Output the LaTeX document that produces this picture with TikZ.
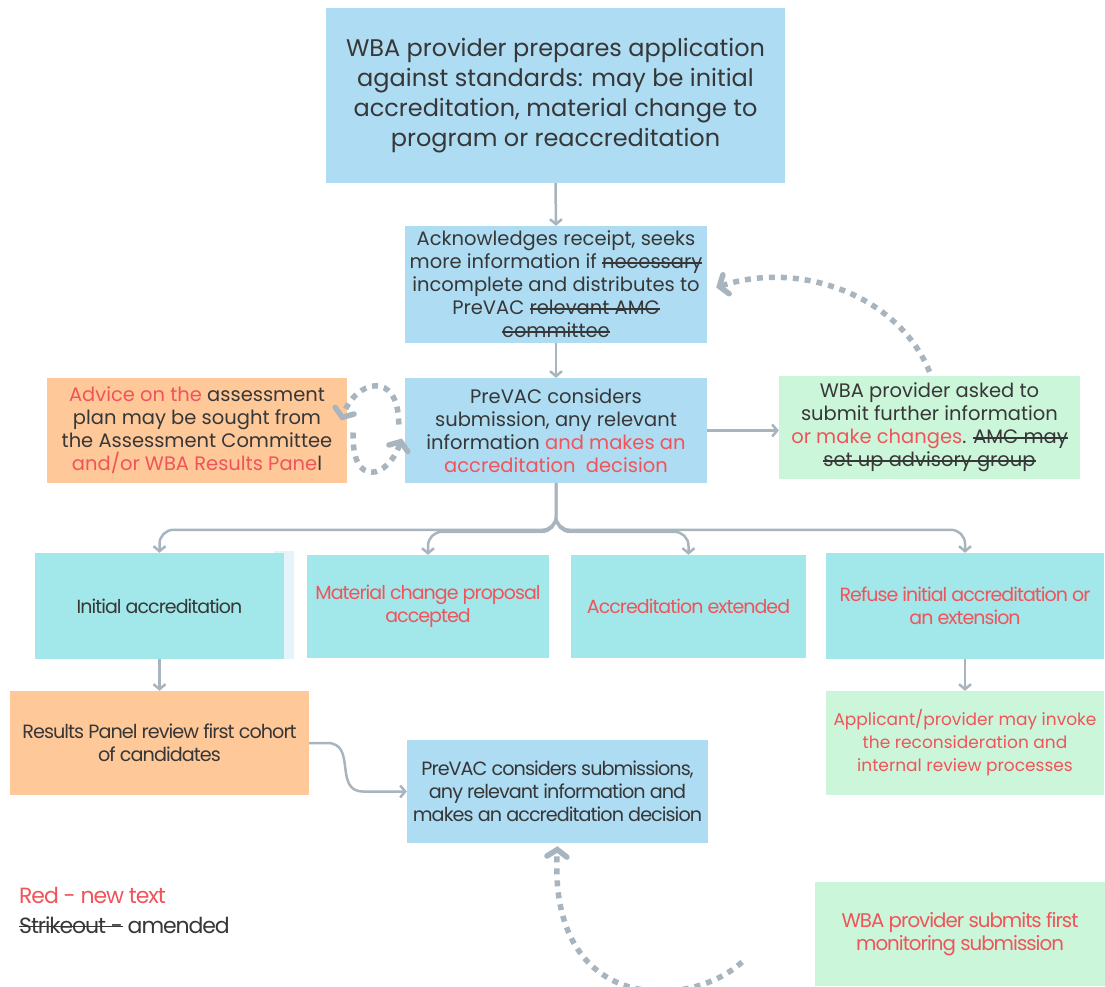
\documentclass[tikz,border=0pt]{standalone}
\usepackage{fontspec}
\usepackage{tikz}
\usetikzlibrary{arrows.meta}
\setmainfont{Poppins}
\newfontfamily\tightfont{Poppins}[LetterSpace=-5]

\definecolor{boxblue}{RGB}{174,220,243}
\definecolor{boxteal}{RGB}{162,231,233}
\definecolor{boxorange}{RGB}{255,200,153}
\definecolor{boxmint}{RGB}{204,246,218}
\definecolor{stripblue}{RGB}{228,244,250}
\definecolor{textgray}{RGB}{55,55,55}
\definecolor{newred}{RGB}{240,84,90}
\definecolor{linegray}{RGB}{168,180,190}

\newcommand{\newtxt}[1]{\textcolor{newred}{#1}}
\newsavebox{\strikebox}
\newcommand{\strikeout}[1]{\sbox{\strikebox}{#1}%
  \rlap{\raisebox{0.27em}{\rule{\wd\strikebox}{1.4pt}}}\usebox{\strikebox}}

\tikzset{
  box/.style={align=center, inner sep=0pt, text=textgray,
    font=\fontsize{19.5}{23}\selectfont},
  bluebox/.style={box, fill=boxblue},
  tealbox/.style={box, fill=boxteal, font=\tightfont\fontsize{19}{23}\selectfont},
  orangebox/.style={box, fill=boxorange},
  mintbox/.style={box, fill=boxmint},
  lowfont/.style={font=\tightfont\fontsize{19.2}{23}\selectfont},
  conn/.style={draw=linegray, line width=2.5pt,
    -{Straight Barb[length=5pt,width=12pt]}},
  dotconn/.style={draw=linegray, line width=5.5pt, dash pattern=on 6pt off 6pt,
    -{Straight Barb[length=7pt,width=20pt,line cap=round]}},
  legend/.style={inner sep=0pt, anchor=west, text=textgray,
    font=\tightfont\fontsize{22}{23}\selectfont}
}

\begin{document}
\begin{tikzpicture}[x=1pt,y=1pt]
  \useasboundingbox (0,0) rectangle (1105,-986);

  % top of the flow
  \node[bluebox, minimum width=459pt, minimum height=175pt,
    font=\fontsize{24}{30}\selectfont] (prepare) at (555.5,-95.5)
    {WBA provider prepares application\\ against standards: may be initial\\
     accreditation, material change to\\ program or reaccreditation};

  \node[bluebox, minimum width=302pt, minimum height=117pt] (ack) at (556,-284.5)
    {Acknowledges receipt, seeks\\ more information if \strikeout{necessary}\\
     incomplete and distributes to\\ PreVAC \strikeout{relevant AMC}\\ \strikeout{committee}};

  \node[bluebox, minimum width=302pt, minimum height=105pt] (prevac) at (556,-430.5)
    {PreVAC considers\\ submission, any relevant\\ information \newtxt{and makes an}\\
     \newtxt{accreditation~ decision}};

  \node[orangebox, minimum width=300pt, minimum height=105pt] (advice) at (197,-430.5)
    {\newtxt{Advice on the} assessment\\ plan may be sought from\\
     the Assessment Committee\\ \newtxt{and/or WBA Results Pane}l};

  \node[mintbox, minimum width=301pt, minimum height=103pt] (asked) at (929.5,-427.5)
    {WBA provider asked to\\ submit further information\\
     \newtxt{or make changes}. \strikeout{AMC may}\\ \strikeout{set up advisory group}};

  % decisions
  \fill[stripblue] (274,-551) rectangle (294,-659);
  \node[tealbox, minimum width=249pt, minimum height=106pt] (init) at (159.5,-606)
    {Initial accreditation};
  \node[tealbox, minimum width=242pt, minimum height=103pt, text=newred] (material) at (428,-606.5)
    {Material change proposal\\ accepted};
  \node[tealbox, minimum width=235pt, minimum height=103pt, text=newred] (extended) at (688.5,-606.5)
    {Accreditation extended};
  \node[tealbox, minimum width=278pt, minimum height=106pt, text=newred] (refuse) at (965,-606)
    {Refuse initial accreditation or\\ an extension};

  % lower part
  \node[orangebox, lowfont, minimum width=299pt, minimum height=104pt] (results) at (159.5,-743)
    {Results Panel review first cohort\\ of candidates};
  \node[bluebox, lowfont, minimum width=301pt, minimum height=103pt] (prevactwo) at (557.5,-791.5)
    {PreVAC considers submissions,\\ any relevant information and\\
     makes an accreditation decision};
  \node[mintbox, minimum width=278pt, minimum height=104pt, text=newred,
    font=\fontsize{17}{23}\selectfont] (applicant) at (965,-743)
    {Applicant/provider may invoke\\ the reconsideration and\\ internal review processes};
  \node[mintbox, minimum width=290pt, minimum height=104pt, text=newred,
    font=\tightfont\fontsize{19.8}{23}\selectfont] (monitor) at (960,-934)
    {WBA provider submits first\\ monitoring submission};

  \node[legend] (legred) at (19,-895) {\newtxt{Red - new text}};
  \node[legend] (legstrike) at (19,-925) {\strikeout{Strikeout -} amended};

  % connectors
  \draw[conn] (prepare.south) -- (ack.north);
  \draw[conn] (ack.south) -- (prevac.north);
  \draw[conn] (prevac.east) -- (prevac.east -| asked.west);
  \draw[conn, rounded corners=14pt] (prevac.south) |- ([yshift=23pt]init.north) -- (init.north);
  \draw[conn, rounded corners=14pt] (prevac.south) |- ([yshift=23pt]material.north) -- (material.north);
  \draw[conn, rounded corners=14pt] (prevac.south) |- ([yshift=23pt]extended.north) -- (extended.north);
  \draw[conn, rounded corners=14pt] (prevac.south) |- ([yshift=23pt]refuse.north) -- (refuse.north);
  \draw[conn] (init.south) -- (results.north);
  \draw[conn] (results.east) -- ++(18,0) .. controls +(30,0) and +(-30,0) .. ++(36,-48.5)
    -- (prevactwo.west);
  \draw[conn] (refuse.south) -- (applicant.north);

  % dotted loops
  \draw[dotconn] ([shift={(-6,6)}]prevac.west) .. controls +(0,56) and +(14,40)
    .. ([shift={(-6,10)}]advice.east);
  \draw[dotconn] ([shift={(6,-2)}]advice.east) .. controls +(-2,-56) and +(-14,-40)
    .. ([shift={(-3,-8)}]prevac.west);
  \draw[dotconn] ([yshift=4pt]asked.north) .. controls +(-30,75) and +(85,28)
    .. ([shift={(9,-3)}]ack.east);
  \coordinate (mstart) at (742,-962);
  \draw[dotconn] (mstart) .. controls +(-52,-48) and +(-9.5,-168.5)
    .. ([yshift=-3pt]prevactwo.south);
\end{tikzpicture}
\end{document}
